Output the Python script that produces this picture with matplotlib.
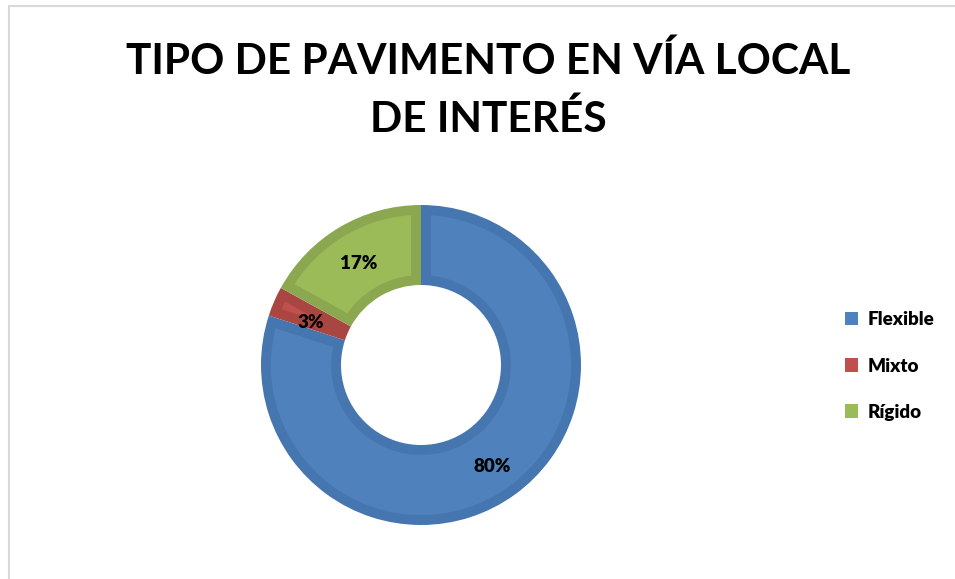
import matplotlib
matplotlib.use('Agg')
import matplotlib.pyplot as plt
import numpy as np
from matplotlib.patches import Rectangle, Patch, Polygon

# datos
categories = ['Flexible', 'Mixto', 'Rígido']
values = [80, 3, 17]
title = 'TIPO DE PAVIMENTO EN VÍA LOCAL\nDE INTERÉS'

FILL = ['#4F81BD', '#C0504D', '#9BBB59']
EDGE = ['#4676AF', '#AA4642', '#8BA850']

FONT = ['Lato', 'DejaVu Sans']
W, H = 955, 579

fig = plt.figure(figsize=(W / 100, H / 100), dpi=100)
fig.patch.set_facecolor('white')

# marco gris del gráfico
fig.patches.append(Rectangle((9 / W, -0.1), 1.2, (H - 6) / H + 0.1,
                             transform=fig.transFigure, fill=False,
                             edgecolor='#D9D9D9', lw=1.5))

# donut: anillo oscuro (borde) + relleno claro con margen interior
R = 160
cx, cy = 421, 365
ax = fig.add_axes([(cx - R) / W, (H - cy - R) / H, 2 * R / W, 2 * R / H])
ax.set_aspect('equal')
wedges, texts = ax.pie(values, colors=EDGE, startangle=90, counterclock=False,
                       radius=1.0, wedgeprops=dict(width=0.5, lw=0))
ax.set_xlim(-1, 1)
ax.set_ylim(-1, 1)
ax.axis('off')

d = 0.062  # grosor del borde (unidades del radio)
r_out, r_in = 1.0 - d, 0.5 + d
for w, fc in zip(wedges, FILL):
    t1, t2 = np.deg2rad(w.theta1), np.deg2rad(w.theta2)
    ao = np.arcsin(d / r_out)
    ai = np.arcsin(d / r_in)
    a_out = np.linspace(t1 + ao, t2 - ao, 80)
    if t2 - t1 < 2 * ai:
        a_in = np.array([(t1 + t2) / 2])
        rin = d / np.sin((t2 - t1) / 2)
    else:
        a_in = np.linspace(t2 - ai, t1 + ai, 80)
        rin = r_in
    pts = np.concatenate([
        np.c_[r_out * np.cos(a_out), r_out * np.sin(a_out)],
        np.c_[rin * np.cos(a_in), rin * np.sin(a_in)],
    ])
    ax.add_patch(Polygon(pts, closed=True, facecolor=fc, edgecolor='none'))

# etiquetas de porcentaje
label_pos = [(0.76, -0.02), (0.75, -0.03), (0.76, -0.02)]
for v, w, (lr, dy) in zip(values, wedges, label_pos):
    mid = np.deg2rad((w.theta1 + w.theta2) / 2)
    ax.text(lr * np.cos(mid), lr * np.sin(mid) + dy, f'{v}%', ha='center',
            va='center', fontsize=13.5, fontweight='heavy', family=FONT,
            color='black')

# título
fig.text(488 / W, 1 - 90 / H, title, ha='center', va='center',
         fontsize=30.5, fontweight='bold', family=FONT, linespacing=1.57)

# leyenda
handles = [Patch(facecolor=c, edgecolor='none') for c in FILL]
fig.legend(handles, categories, loc='center left',
           bbox_to_anchor=(828 / W, 1 - 366 / H), frameon=False,
           handlelength=0.7, handleheight=0.7, handletextpad=0.5,
           labelspacing=1.55, prop=dict(family=FONT, weight='heavy', size=13.5))

fig.savefig('out.png', dpi=100, facecolor='white')
